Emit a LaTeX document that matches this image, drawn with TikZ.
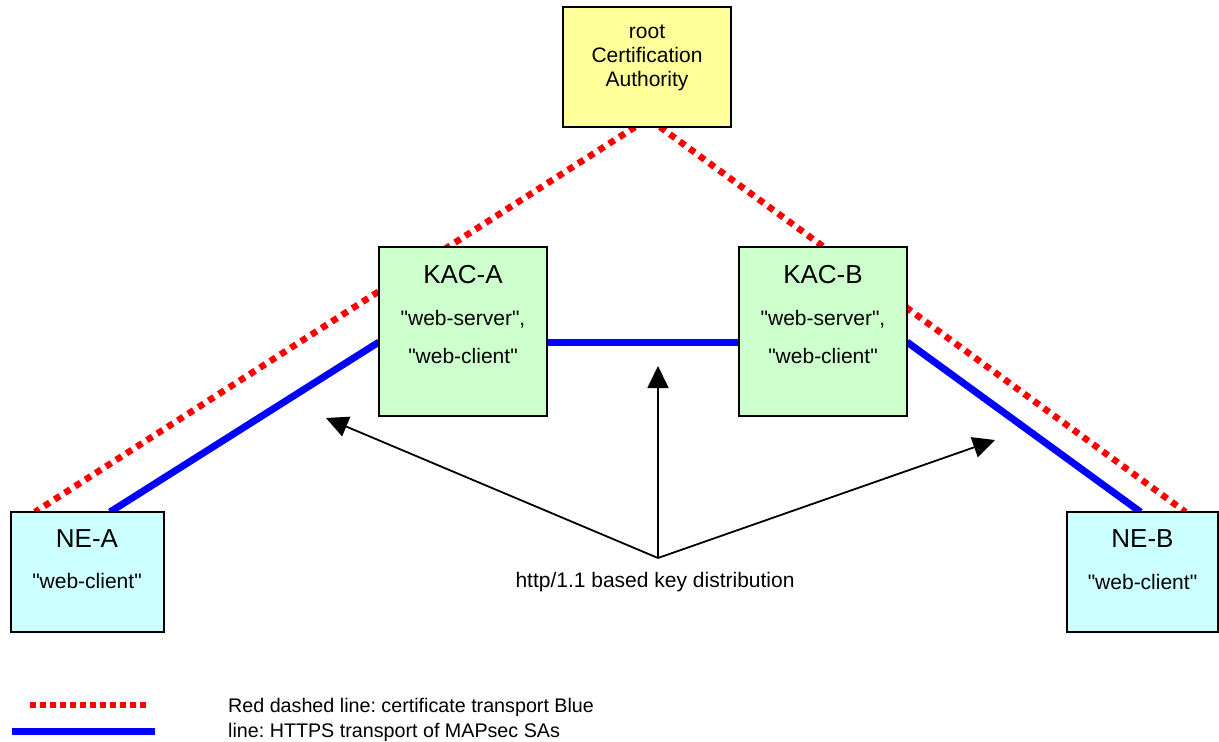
\documentclass[tikz,border=0pt]{standalone}
\usepackage{fontspec}
\setmainfont{Liberation Sans}[Ligatures=TeXOff]
\usetikzlibrary{arrows.meta,calc}
\pgfdeclarelayer{bg}
\pgfsetlayers{bg,main}
\definecolor{cayellow}{HTML}{FFFF99}
\definecolor{kacgreen}{HTML}{CCFFCC}
\definecolor{necyan}{HTML}{CCFFFF}
\tikzset{
  box/.style={draw=black, line width=1.5pt, inner sep=0pt, outer sep=0pt},
  title/.style={anchor=base, inner sep=0pt, font=\fontsize{26}{30}\selectfont},
  txt/.style={anchor=base, inner sep=0pt, font=\fontsize{21}{24}\selectfont},
  legtxt/.style={anchor=base west, inner sep=0pt, font=\fontsize{19.7}{24}\selectfont},
  cert/.style={draw=red, line width=6.5pt, dash pattern=on 6.5pt off 5.7pt},
  certlegend/.style={draw=red, line width=5.5pt, dash pattern=on 5.5pt off 4.5pt},
  https/.style={draw=blue, line width=7pt},
  dist/.style={draw=black, line width=1.8pt, -{Triangle[length=22pt, width=21pt]}}
}
\begin{document}
\frenchspacing
\begin{tikzpicture}[x=1pt, y=-1pt]
\useasboundingbox (0,0) rectangle (1219,742);
% boxes
\node[box, fill=cayellow, minimum width=168pt, minimum height=120pt] (root) at (647,67) {};
\node[box, fill=kacgreen, minimum width=168pt, minimum height=169pt] (kaca) at (463,331.5) {};
\node[box, fill=kacgreen, minimum width=168pt, minimum height=169pt] (kacb) at (823,331.5) {};
\node[box, fill=necyan, minimum width=153pt, minimum height=120pt] (nea) at (87.5,572) {};
\node[box, fill=necyan, minimum width=151pt, minimum height=120pt] (neb) at (1142.5,572) {};
% texts
\node[txt] (r1) at (647,38) {root};
\node[txt] (r2) at (647,62.5) {Certification};
\node[txt] (r3) at (647,86.5) {Authority};
\node[title] (kat) at (463,283) {KAC-A};
\node[txt] (kas) at (463,325) {"web-server",};
\node[txt] (kac) at (463,363) {"web-client"};
\node[title] (kbt) at (823,283) {KAC-B};
\node[txt] (kbs) at (823,325) {"web-server",};
\node[txt] (kbc) at (823,363) {"web-client"};
\node[title] (nat) at (87,547) {NE-A};
\node[txt] (nac) at (87,588) {"web-client"};
\node[title] (nbt) at (1142.5,547) {NE-B};
\node[txt] (nbc) at (1142.5,589) {"web-client"};
\node[txt] (lbl) at (655,587) {http/1.1 based key distribution};
% connectors behind boxes
\begin{pgfonlayer}{bg}
\draw[cert] ($(root.south)+(-12,0)$) -- ($(nea.north west)+(24,0)$);
\draw[cert] ($(root.south)+(13,0)$) -- ($(neb.north)+(43,0)$);
\draw[https] ($(kaca.west)+(0,10.5)$) -- ($(nea.north)+(22.5,0)$);
\draw[https] ($(kaca.east)+(0,10.5)$) -- ($(kacb.west)+(0,10.5)$);
\draw[https] ($(kacb.east)+(0,10.5)$) -- ($(neb.north)+(-2,0)$);
\end{pgfonlayer}
% distribution arrows
\coordinate (hub) at (658,558);
\coordinate (tl) at (326,418);
\coordinate (tm) at (658,366);
\coordinate (tr) at (995,440);
\draw[dist] (hub) -- (tl);
\draw[dist] (hub) -- (tm);
\draw[dist] (hub) -- (tr);
% legend
\coordinate (lr1) at (30,705);
\coordinate (lr2) at (150,705);
\coordinate (lb1) at (12,731);
\coordinate (lb2) at (155,731);
\draw[certlegend] (lr1) -- (lr2);
\draw[https] (lb1) -- (lb2);
\node[legtxt] (leg1) at (228,712) {Red dashed line: certificate transport Blue};
\node[legtxt] (leg2) at (228,737) {line: HTTPS transport of MAPsec SAs};
\end{tikzpicture}
\end{document}
